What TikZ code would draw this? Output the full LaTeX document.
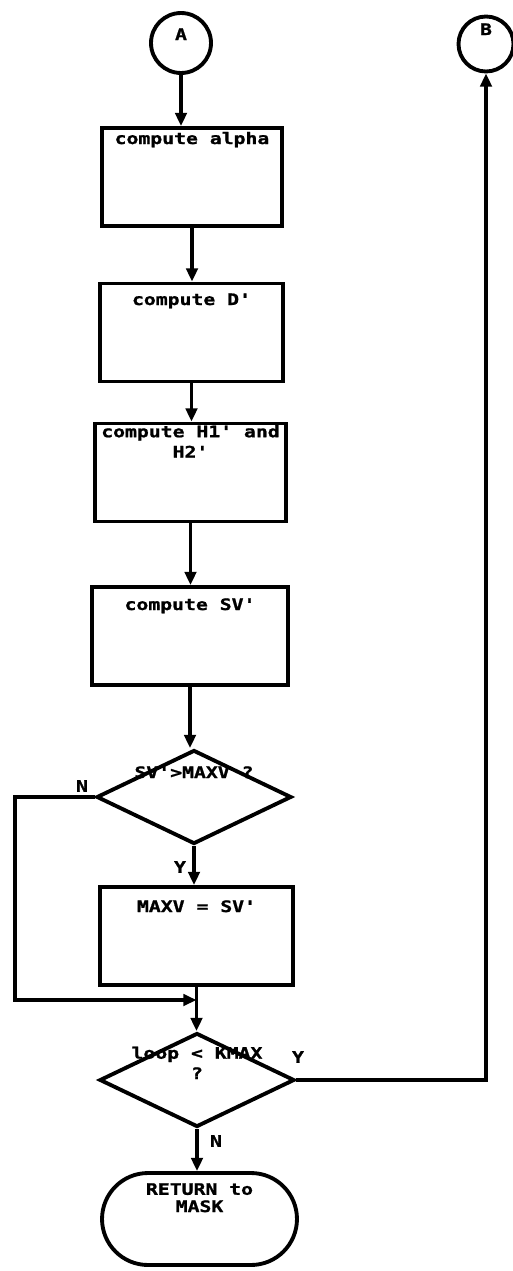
\documentclass[tikz,border=0pt]{standalone}
\usepackage{fontspec}
\newfontfamily\chartfont[FakeStretch=1.25, FakeBold=1.2]{DejaVu Sans Mono}
\usetikzlibrary{arrows.meta, positioning, shapes.geometric, shapes.misc}
\newcommand{\toptext}[2]{\smash{\raisebox{#1}{\shortstack{#2}}}}

\begin{document}
\begin{tikzpicture}[
                    x=0.02cm, y=-0.02cm,
                    line width=2.2pt,
                    every node/.style={font=\chartfont\bfseries\fontsize{9}{10}\selectfont},
                    flow/.style={-{Triangle[length=7.5pt,width=6.5pt]}},
                    connector/.style={draw, circle, minimum size=#1, inner sep=0pt},
                    procbox/.style={draw, rectangle, minimum width=#1, minimum height=1.96cm, inner sep=0pt},
                    decision/.style={draw, diamond, aspect=2, minimum width=3.9cm, minimum height=1.88cm, inner sep=0pt},
                    terminal/.style={draw, rounded rectangle, minimum width=3.9cm, minimum height=1.84cm, inner sep=0pt},
                    lbl/.style={inner sep=1pt}
                ]
                    \useasboundingbox (0,0) rectangle (513,1271);
                    % connectors
                    \node[connector=1.2cm] (A) at (181,43) {\toptext{0.06cm}{A}};
                    \node[connector=1.1cm] (B) at (486,44) {\toptext{0.18cm}{B}};
                    % main column
                    \node[procbox=3.6cm] (alpha) at (192,177) {\toptext{0.66cm}{compute alpha}};
                    \node[procbox=3.66cm] (dprime) at (191.5,332.5) {\toptext{0.55cm}{compute D'}};
                    \node[procbox=3.82cm] (hprime) at (190.5,472.5) {\toptext{0.30cm}{compute H1' and\\H2'}};
                    \node[procbox=3.92cm] (svprime) at (190,636) {\toptext{0.52cm}{compute SV'}};
                    \node[decision] (dec1) at (194,797) {\toptext{0.38cm}{SV'>MAXV ?}};
                    \node[procbox=3.86cm] (maxv) at (196.5,936) {\toptext{0.48cm}{MAXV = SV'}};
                    \node[decision] (dec2) at (197,1080) {\toptext{0.02cm}{loop < KMAX\\?}};
                    \node[terminal] (ret) at (199.5,1219) {\toptext{0.14cm}{RETURN to\\MASK}};
                    % branch labels
                    \node[lbl] (nlab1) at (82,786) {N};
                    \node[lbl] (ylab1) at (180,867) {Y};
                    \node[lbl] (ylab2) at (298,1057) {Y};
                    \node[lbl] (nlab2) at (216,1141) {N};
                    \coordinate (merge) at (196.5,1000);
                    \coordinate (loopleft) at (15,1000);
                    % flow lines
                    \draw[flow] (A.south) -- (A.south |- alpha.north);
                    \draw[flow] (alpha.south) -- (alpha.south |- dprime.north);
                    \draw[flow] (dprime.south) -- (dprime.south |- hprime.north);
                    \draw[flow] (hprime.south) -- (hprime.south |- svprime.north);
                    \draw[flow] (svprime.south) -- (svprime.south |- dec1.north);
                    \draw[flow] (dec1.south) -- (dec1.south |- maxv.north);
                    \draw[flow] (maxv.south) -- (maxv.south |- dec2.north);
                    \draw[flow] (dec1.west) -- (dec1.west -| loopleft) |- (merge);
                    \draw[flow] (dec2.south) -- (dec2.south |- ret.north);
                    \draw[flow] (dec2.east) -| (B.south);
                \end{tikzpicture}
\end{document}
